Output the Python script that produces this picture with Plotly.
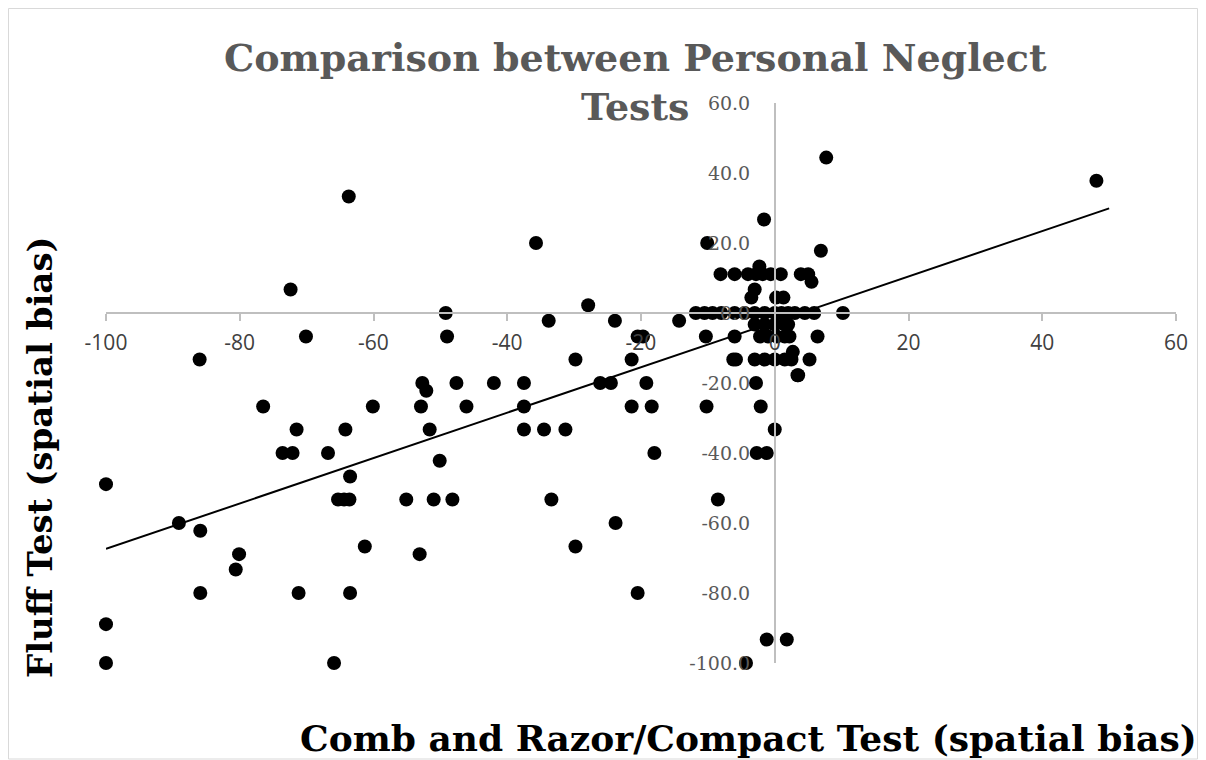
import plotly.graph_objects as go

# Comb and Razor/Compact Test (spatial bias)
comb_x = [
    -63.7, -72.4, -70.1, -86.0, -76.5, -60.1, -71.5, -64.2, -73.6, -72.1,
    -66.8, -100.0, -63.5, -65.3, -64.4, -63.6, -89.1, -85.9, -80.1, -80.6,
    -61.3, -85.9, -71.2, -63.5, -100.0, -100.0, -65.9, -35.7, -27.9, -49.2,
    -33.8, -23.9, -14.3, -11.8, -49.0, -20.5, -19.7, -29.8, -21.4, -52.7,
    -52.1, -47.6, -42.0, -37.5, -26.1, -24.5, -19.2, -52.9, -46.1, -37.5,
    -21.4, -18.4, -51.6, -37.5, -34.5, -31.3, -50.1, -18.0, -55.1, -51.0,
    -48.2, -33.4, -23.8, -29.8, -53.1, -20.5,
    7.7, -1.6, -10.1, 6.9, 48.1, -2.7, -1.2, -8.5, -1.2, 1.8,
    -4.3, 10.2, 5.9, 6.4, 5.2, 3.4, 2.7, -10.3, -6.0, -5.8,
    -2.8, -10.2, -2.1, 0.0,
    -8.1, -6.0, -4.0, -2.8, -1.8, -0.6, 0.9, 3.9, 5.0,
    5.5, -2.3, -3.0, -3.5, 0.2, 1.3,
    -10.5, -9.3, -8.0, -6.0, -4.5, -3.0, -1.5, 0.0, 1.0, 2.0, 3.0, 4.5,
    -3.0, -1.5, 0.0, 1.5, 2.0,
    -2.2, -1.0, 0.3, 1.5, 2.2,
    -6.2, -3.0, -1.5, 0.0, 1.5, 2.5,
    3.5,
]
# Fluff Test (spatial bias)
fluff_y = [
    33.3, 6.7, -6.7, -13.3, -26.7, -26.7, -33.3, -33.3, -40.0, -40.0,
    -40.0, -48.9, -46.7, -53.3, -53.3, -53.3, -60.0, -62.2, -68.9, -73.3,
    -66.7, -80.0, -80.0, -80.0, -88.9, -100.0, -100.0, 20.0, 2.2, 0.0,
    -2.2, -2.2, -2.2, 0.0, -6.7, -6.7, -6.7, -13.3, -13.3, -20.0,
    -22.2, -20.0, -20.0, -20.0, -20.0, -20.0, -20.0, -26.7, -26.7, -26.7,
    -26.7, -26.7, -33.3, -33.3, -33.3, -33.3, -42.2, -40.0, -53.3, -53.3,
    -53.3, -53.3, -60.0, -66.7, -68.9, -80.0,
    44.4, 26.7, 20.0, 17.8, 37.8, -40.0, -40.0, -53.3, -93.3, -93.3,
    -100.0, 0.0, 0.0, -6.7, -13.3, -17.8, -11.1, -6.7, -6.7, -13.3,
    -20.0, -26.7, -26.7, -33.3,
    11.1, 11.1, 11.1, 11.1, 11.1, 11.1, 11.1, 11.1, 11.1,
    8.9, 13.3, 6.7, 4.4, 4.4, 4.4,
    0.0, 0.0, 0.0, 0.0, 0.0, 0.0, 0.0, 0.0, 0.0, 0.0, 0.0, 0.0,
    -3.3, -3.3, -3.3, -3.3, -3.3,
    -6.7, -6.7, -6.7, -6.7, -6.7,
    -13.3, -13.3, -13.3, -13.3, -13.3, -13.3,
    -17.8,
]

# linear trendline endpoints
trend_x = [-100, 50]
trend_y = [-67.4, 29.9]

x_ticks = [-100, -80, -60, -40, -20, 0, 20, 40, 60]
y_ticks = [-100, -80, -60, -40, -20, 0, 20, 40, 60]

title_text = "Comparison between Personal Neglect<br>Tests"
x_title = "Comb and Razor/Compact Test (spatial bias)"
y_title = "Fluff Test (spatial bias)"

# page body has an 8px margin; figure is sized to fill the rest of the window
O = 8
W, H = 1206 - O, 760 - O
# plot area in window pixels: x 106..1176, y 103..663
L, R, T, B = 106 - O, 1206 - 1176, 103 - O, 760 - 663
pw, ph = W - L - R, H - T - B


def px(xp):
    return (xp - O - L) / pw


def py(yp):
    return (H - B - (yp - O)) / ph


fig = go.Figure()
fig.add_trace(go.Scatter(
    x=comb_x, y=fluff_y, mode="markers",
    marker=dict(color="black", size=14, line=dict(width=0)),
    cliponaxis=False, showlegend=False,
))
fig.add_trace(go.Scatter(
    x=trend_x, y=trend_y, mode="lines",
    line=dict(color="black", width=2),
    cliponaxis=False, showlegend=False,
))

fig.update_layout(
    width=W, height=H,
    margin=dict(l=L, r=R, t=T, b=B),
    paper_bgcolor="white", plot_bgcolor="white",
    showlegend=False,
    xaxis=dict(
        range=[-100, 60], domain=[0, 1], anchor="free", position=0.625,
        showline=True, linecolor="#BFBFBF", linewidth=1.5,
        ticks="outside", ticklen=7, tickcolor="#BFBFBF", tickwidth=1.5,
        tickvals=x_ticks, ticktext=[str(v) for v in x_ticks],
        showgrid=False, zeroline=False,
        tickfont=dict(family="Open Sans", size=21, color="#404040"),
        ticklabelstandoff=4,
    ),
    yaxis=dict(
        range=[-100, 60], domain=[0, 1], anchor="free", position=0.625,
        showline=True, linecolor="#BFBFBF", linewidth=1.5,
        ticks="", tickvals=y_ticks, ticktext=[f"{v:.1f}" for v in y_ticks],
        showgrid=False, zeroline=False,
        tickfont=dict(family="DejaVu Serif", size=19, color="#595959"),
        ticklabelstandoff=20,
    ),
    annotations=[
        dict(text=title_text, xref="paper", yref="paper",
             x=px(635), y=py(82), xanchor="center", yanchor="middle",
             showarrow=False, align="center",
             font=dict(family="DejaVu Serif", size=38, color="#595959", weight="bold")),
        dict(text=x_title, xref="paper", yref="paper",
             x=px(748), y=py(738), xanchor="center", yanchor="middle",
             showarrow=False,
             font=dict(family="DejaVu Serif", size=36, color="black", weight="bold")),
        dict(text=y_title, xref="paper", yref="paper",
             x=px(40), y=py(457), xanchor="center", yanchor="middle",
             showarrow=False, textangle=-90,
             font=dict(family="DejaVu Serif", size=34, color="black", weight="bold")),
    ],
    shapes=[
        dict(type="rect", xref="paper", yref="paper",
             x0=px(8.5), x1=px(1197.5), y0=py(759), y1=py(8.5),
             line=dict(color="#D9D9D9", width=1), layer="below"),
    ],
)

fig.write_html("out.html")
